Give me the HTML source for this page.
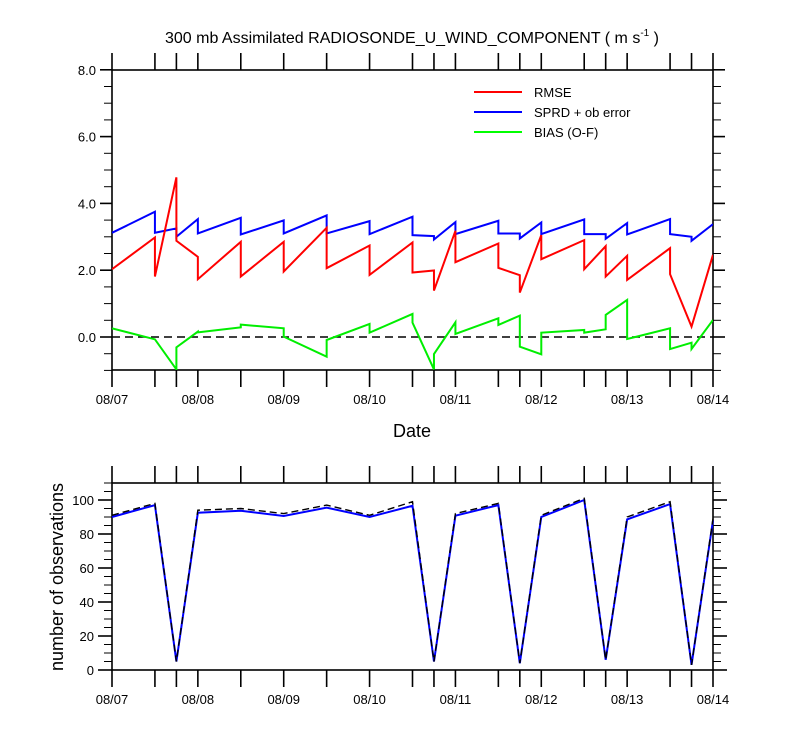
<!DOCTYPE html>
<html><head><meta charset="utf-8">
<style>
html,body{margin:0;padding:0;background:#fff;}
svg{display:block;font-family:"Liberation Sans",Arial,sans-serif;}
</style></head>
<body>
<svg id="chart" width="800" height="750" viewBox="0 0 800 750">
<text x="412" y="43" font-size="16" text-anchor="middle">300 mb Assimilated RADIOSONDE_U_WIND_COMPONENT ( m s<tspan font-size="10" dy="-7">-1</tspan><tspan dy="7"> )</tspan></text>
<g id="topPanel"></g>
<g id="botPanel"></g>
<text x="412" y="437" font-size="18" text-anchor="middle">Date</text>
<text transform="translate(63,577) rotate(-90)" font-size="18" text-anchor="middle">number of observations</text>
<g>
<line x1="474" y1="92" x2="522" y2="92" stroke="#ff0000" stroke-width="2"/>
<text x="534" y="97" font-size="13">RMSE</text>
<line x1="474" y1="112" x2="522" y2="112" stroke="#0000ff" stroke-width="2"/>
<text x="534" y="117" font-size="13">SPRD + ob error</text>
<line x1="474" y1="132" x2="522" y2="132" stroke="#00ff00" stroke-width="2"/>
<text x="534" y="137" font-size="13">BIAS (O-F)</text>
</g>
</svg>
<script>
// time stamps (days since 08/07 00Z)
const times = [0,0.5,0.75,1,1.5,2,2.5,3,3.5,3.75,4,4.5,4.75,5,5.5,5.75,6,6.5,6.75,7];
const dateTicks = [0,1,2,3,4,5,6,7];
const dateLabels = ["08/07","08/08","08/09","08/10","08/11","08/12","08/13","08/14"];
// per-interval start / end values
const rmseStart = [2.03,1.81,2.88,1.73,1.81,1.96,2.06,1.86,1.93,1.39,2.24,2.07,1.33,2.33,2.03,1.81,1.71,1.88,0.31];
const rmseEnd   = [2.98,4.78,2.40,2.85,2.85,3.27,2.74,2.83,1.99,3.18,2.80,1.85,3.05,2.90,2.72,2.43,2.66,0.31,2.46];
const sprdStart = [3.12,3.12,3.00,3.10,3.07,3.10,3.10,3.08,3.05,2.92,3.08,3.10,2.95,3.08,3.08,2.94,3.07,3.08,2.88];
const sprdEnd   = [3.75,3.25,3.53,3.57,3.49,3.64,3.47,3.60,3.02,3.44,3.48,3.10,3.43,3.52,3.08,3.41,3.53,3.00,3.38];
const biasStart = [0.26,-0.07,-0.31,0.14,0.37,0.01,-0.09,0.13,0.43,-0.51,0.09,0.36,-0.29,0.13,0.13,0.66,-0.06,-0.36,-0.36];
const biasEnd   = [-0.07,-0.97,0.16,0.29,0.26,-0.59,0.39,0.69,-0.97,0.44,0.56,0.64,-0.52,0.21,0.23,1.11,0.26,-0.17,0.51];
const topTicks = [0,2,4,6,8];
const topTickLabels = ["0.0","2.0","4.0","6.0","8.0"];
// observation counts
const obsCount = [90,97,5,92.5,93.7,90.6,95.5,90,96.6,5,90.8,97,4,90,100,6,88.6,97.6,3,88];
const obsTotal = [91,98,5,94,95,92,97,91,99,5,92,98,4,91,101,6,90,99,3,89];
const botTicks = [0,20,40,60,80,100];

const NS="http://www.w3.org/2000/svg";
const X0=112,X1=713;
const xs=t=>X0+(X1-X0)*t/7;
const yTop=v=>337-v*33.4;
const yBot=v=>670-v*1.7;
function mk(parent,tag,attrs){const e=document.createElementNS(NS,tag);for(const k in attrs)e.setAttribute(k,attrs[k]);parent.appendChild(e);return e;}
const topG=document.getElementById('topPanel'), botG=document.getElementById('botPanel');

function frame(g,yT,yB,name){
  const r=mk(g,'rect',{x:X0,y:yT,width:X1-X0,height:yB-yT,fill:'none',stroke:'#000','stroke-width':1.6});
  
  
  times.forEach(t=>{
    const a=mk(g,'line',{x1:xs(t),x2:xs(t),y1:yT-17,y2:yT,stroke:'#000','stroke-width':1.6});
    
    
    const b=mk(g,'line',{x1:xs(t),x2:xs(t),y1:yB,y2:yB+17,stroke:'#000','stroke-width':1.6});
    
    
  });
  dateTicks.forEach((t,i)=>{
    const tx=mk(g,'text',{x:xs(t),y:yB+34,'font-size':13,'text-anchor':'middle'});
    tx.textContent=dateLabels[i];
    
    
  });
}
function yticks(g,min,max,minorStep,majors,labels,yf,majLen,minLen,name){
  for(let v=min;v<=max+1e-9;v+=minorStep){
    const isMaj=majors.some(m=>Math.abs(m-v)<1e-6);
    const L=isMaj?majLen:minLen;
    const l=mk(g,'line',{x1:X0-L,x2:X0,y1:yf(v),y2:yf(v),stroke:'#000','stroke-width':isMaj?1.6:1});
    
    
    const r=mk(g,'line',{x1:X1,x2:X1+L,y1:yf(v),y2:yf(v),stroke:'#000','stroke-width':isMaj?1.6:1});
    
    
  }
  majors.forEach((m,i)=>{
    const t=mk(g,'text',{x:X0-(majLen+4),y:yf(m)+5,'font-size':13,'text-anchor':'end'});
    t.textContent=labels[i];
    
    
  });
}
frame(topG,70,370,'top-plot-frame');
yticks(topG,-1,8,0.5,topTicks,topTickLabels,yTop,12,8,'y');
const zl=mk(topG,'line',{x1:X0,x2:X1,y1:yTop(0),y2:yTop(0),stroke:'#000','stroke-width':1.4,'stroke-dasharray':'8,5'});


function seg(starts,ends){const p=[];for(let i=0;i<starts.length;i++){p.push(xs(times[i])+','+yTop(starts[i]));p.push(xs(times[i+1])+','+yTop(ends[i]));}return p.join(' ');}
const clip=mk(topG,'clipPath',{id:'cp'});mk(clip,'rect',{x:X0,y:70,width:X1-X0,height:300});
const s1=mk(topG,'polyline',{points:seg(sprdStart,sprdEnd),fill:'none',stroke:'#0000ff','stroke-width':2,'clip-path':'url(#cp)'});


const s2=mk(topG,'polyline',{points:seg(rmseStart,rmseEnd),fill:'none',stroke:'#ff0000','stroke-width':2,'clip-path':'url(#cp)'});


const s3=mk(topG,'polyline',{points:seg(biasStart,biasEnd),fill:'none',stroke:'#00ee00','stroke-width':2,'clip-path':'url(#cp)'});


frame(botG,483,670,'bottom-plot-frame');
yticks(botG,0,110,5,botTicks,botTicks.map(String),yBot,14,8,'obs');
const pts=a=>a.map((v,i)=>xs(times[i])+','+yBot(v)).join(' ');
const b1=mk(botG,'polyline',{points:pts(obsCount),fill:'none',stroke:'#0000ff','stroke-width':2});


const b2=mk(botG,'polyline',{points:pts(obsTotal),fill:'none',stroke:'#000','stroke-width':1.4,'stroke-dasharray':'7,4'});


</script>
</body></html>
